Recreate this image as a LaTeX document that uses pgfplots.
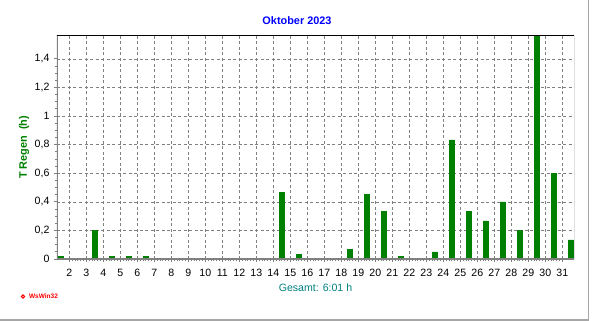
\documentclass[border=0pt]{standalone}
\usepackage{pgfplots}
\pgfplotsset{compat=1.18}
\usepackage{fontspec}
\setmainfont{Liberation Sans}
\definecolor{bargreen}{HTML}{008000}
\definecolor{gridgray}{HTML}{808080}
\definecolor{titleblue}{HTML}{0000FF}
\definecolor{teal2}{HTML}{008080}
\begin{document}
\begin{tikzpicture}[x=1pt,y=1pt]
\fill[white] (0,0) rectangle (592,-321);
\draw[gray!70,line width=1.5pt] (588.5,0) -- (588.5,-320) -- (0,-320);
\begin{axis}[
  at={(57pt,-259pt)}, anchor=south west,
  scale only axis, width=517pt, height=224pt,
  xmin=1.276, xmax=31.69, ymin=0, ymax=1.5667,
  axis line style={draw=none},
  xtick={2,...,31},
  ytick={0,0.2,...,1.4},
  minor x tick num=5,
  minor y tick num=3,
  tick align=outside,
  major tick length=3pt, minor tick length=2pt,
  tick style={gridgray, line width=0.8pt},
  xtick pos=bottom, ytick pos=left,
  grid=major,
  major grid style={gridgray, dash pattern=on 3pt off 2.5pt, line width=0.6pt},
  minor grid style={draw=none},
  /pgf/number format/use comma,
  /pgf/number format/assume math mode=true,
  ticklabel style={font=\fontsize{10.6}{12}\selectfont, black},
  xticklabel style={yshift=-3.5pt},
  yticklabel style={xshift=-1pt},
  clip=true,
]
\addplot[ybar, bar width=5pt, fill=bargreen, draw=bargreen, line width=0.6pt] coordinates {
(1.5,0.0167) (2.5,0) (3.5,0.2) (4.5,0.0167) (5.5,0.0167) (6.5,0.0167)
(7.5,0) (8.5,0) (9.5,0) (10.5,0) (11.5,0) (12.5,0) (13.5,0)
(14.5,0.4667) (15.5,0.0333) (16.5,0) (17.5,0) (18.5,0.0667)
(19.5,0.45) (20.5,0.3333) (21.5,0.0167) (22.5,0) (23.5,0.05)
(24.5,0.8333) (25.5,0.3333) (26.5,0.2667) (27.5,0.4) (28.5,0.2)
(29.5,1.5667) (30.5,0.6) (31.5,0.1333)
};
\draw[gridgray, line width=2pt] (axis cs:1.276,1.5667) -- (axis cs:1.276,0) -- (axis cs:31.69,0);
\draw[black, line width=1pt] (axis cs:1.276,1.5667) -- (axis cs:31.69,1.5667) -- (axis cs:31.69,0);
\end{axis}
\node[font=\bfseries\fontsize{10.9}{12}\selectfont, text=titleblue] at (297,-21) {Oktober 2023};
\node[font=\bfseries\fontsize{10.9}{12}\selectfont, text=bargreen, rotate=90] at (24,-147.5) {T Regen \ (h)};
\node[font=\fontsize{10.6}{12}\selectfont, text=teal2] at (315.5,-288) {Gesamt: 6:01 h};
\draw[red, line width=1pt] (23,-296.5) circle (1.6);
\node[font=\bfseries\fontsize{6.5}{7}\selectfont, text=red, anchor=west] at (25.5,-296.5) {WsWin32};
\pgfresetboundingbox
\path[use as bounding box] (0,0) rectangle (592,-321);
\end{tikzpicture}
\end{document}
